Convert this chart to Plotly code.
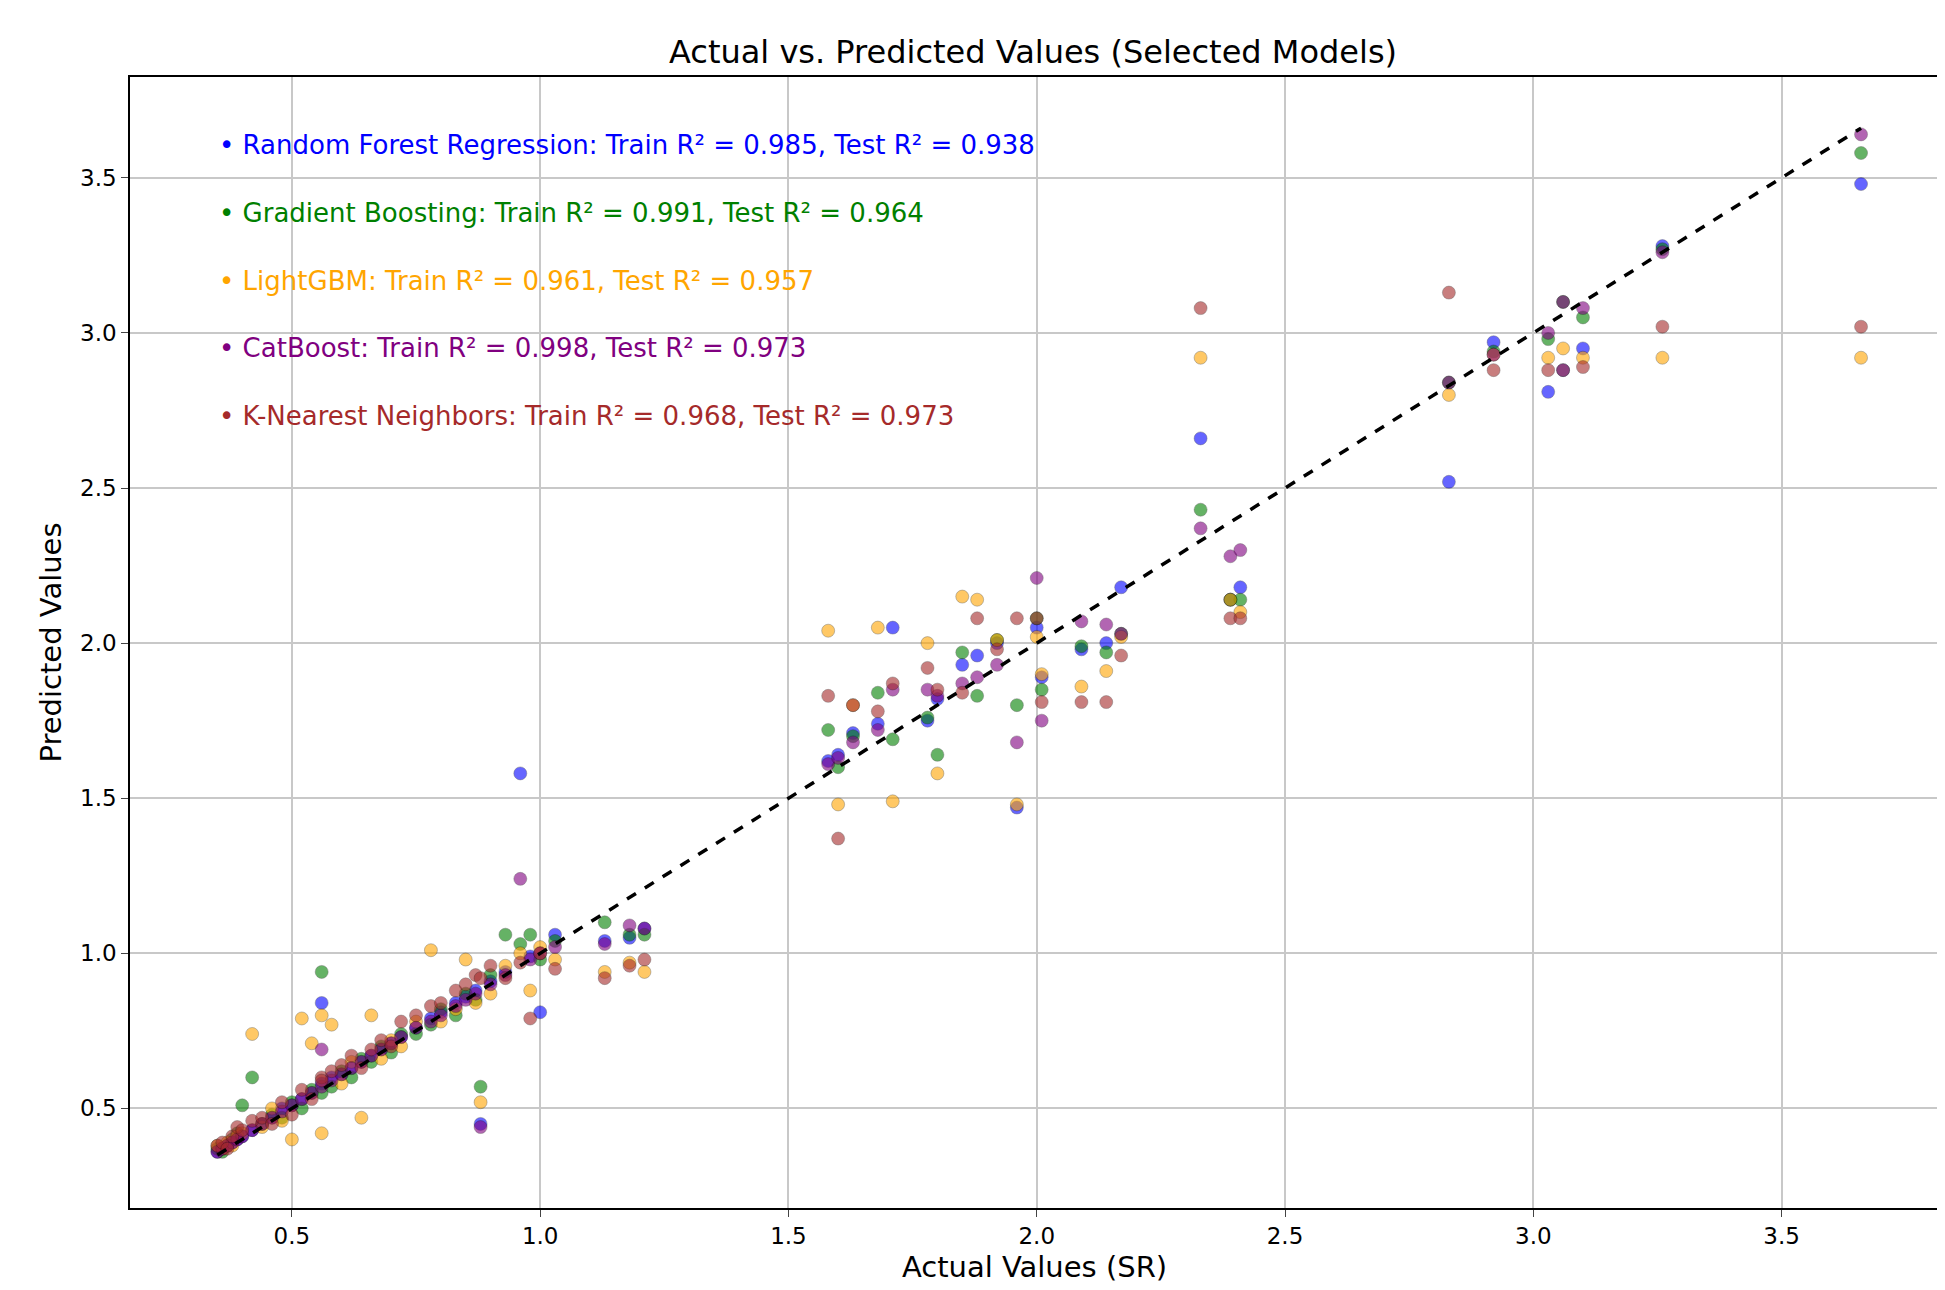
import plotly.graph_objects as go

# actual test values (SR)
actual = [0.35, 0.36, 0.37, 0.38, 0.39, 0.40, 0.42, 0.44, 0.46, 0.48,
          0.50, 0.52, 0.54, 0.56, 0.56, 0.58, 0.60, 0.62, 0.64, 0.66,
          0.68, 0.70, 0.72, 0.75, 0.78, 0.80, 0.83, 0.85, 0.87, 0.88,
          0.90, 0.93, 0.96, 0.98, 1.00, 1.03, 1.13, 1.18, 1.21, 1.58,
          1.60, 1.63, 1.68, 1.71, 1.78, 1.80, 1.85, 1.88, 1.92, 1.96,
          2.00, 2.01, 2.09, 2.14, 2.17, 2.33, 2.39, 2.41, 2.83, 2.92,
          3.03, 3.06, 3.10, 3.26, 3.66]

pred_rf = [0.36, 0.37, 0.38, 0.39, 0.40, 0.41, 0.43, 0.45, 0.47, 0.50,
           0.51, 0.53, 0.55, 0.84, 0.58, 0.60, 0.61, 0.63, 0.65, 0.67,
           0.69, 0.71, 0.73, 0.76, 0.79, 0.81, 0.84, 0.86, 0.88, 0.45,
           0.91, 0.94, 1.58, 0.99, 0.81, 1.06, 1.04, 1.05, 1.08, 1.62,
           1.64, 1.71, 1.74, 2.05, 1.75, 1.82, 1.93, 1.96, 2.00, 1.47,
           2.05, 1.89, 1.98, 2.00, 2.18, 2.66, 2.14, 2.18, 2.52, 2.97,
           2.81, 2.88, 2.95, 3.28, 3.48]
pred_gb = [0.37, 0.36, 0.38, 0.40, 0.42, 0.51, 0.60, 0.45, 0.48, 0.47,
           0.52, 0.50, 0.56, 0.94, 0.55, 0.57, 0.62, 0.60, 0.66, 0.65,
           0.70, 0.68, 0.74, 0.74, 0.77, 0.82, 0.80, 0.87, 0.85, 0.57,
           0.93, 1.06, 1.03, 1.06, 0.98, 1.04, 1.10, 1.06, 1.06, 1.72,
           1.60, 1.70, 1.84, 1.69, 1.76, 1.64, 1.97, 1.83, 2.01, 1.80,
           2.08, 1.85, 1.99, 1.97, 2.03, 2.43, 2.14, 2.14, 2.84, 2.94,
           2.98, 3.10, 3.05, 3.27, 3.58]
pred_lgbm = [0.38, 0.37, 0.39, 0.38, 0.41, 0.42, 0.74, 0.44, 0.50, 0.46,
             0.40, 0.79, 0.71, 0.80, 0.42, 0.77, 0.58, 0.65, 0.47, 0.80,
             0.66, 0.72, 0.70, 0.78, 1.01, 0.78, 0.82, 0.98, 0.84, 0.52,
             0.87, 0.96, 1.00, 0.88, 1.02, 0.98, 0.94, 0.97, 0.94, 2.04,
             1.48, 1.80, 2.05, 1.49, 2.00, 1.58, 2.15, 2.14, 2.01, 1.48,
             2.02, 1.90, 1.86, 1.91, 2.02, 2.92, 2.14, 2.10, 2.80, 2.93,
             2.92, 2.95, 2.92, 2.92, 2.92]
pred_cat = [0.36, 0.37, 0.38, 0.39, 0.40, 0.41, 0.43, 0.45, 0.47, 0.49,
            0.51, 0.53, 0.55, 0.69, 0.57, 0.59, 0.61, 0.63, 0.65, 0.67,
            0.69, 0.71, 0.73, 0.76, 0.78, 0.80, 0.83, 0.85, 0.87, 0.44,
            0.90, 0.93, 1.24, 0.98, 1.00, 1.02, 1.03, 1.09, 1.08, 1.61,
            1.63, 1.68, 1.72, 1.85, 1.85, 1.83, 1.87, 1.89, 1.93, 1.68,
            2.21, 1.75, 2.07, 2.06, 2.03, 2.37, 2.28, 2.30, 2.84, 2.93,
            3.00, 3.10, 3.08, 3.26, 3.64]
pred_knn = [0.38, 0.39, 0.37, 0.41, 0.44, 0.43, 0.46, 0.47, 0.45, 0.52,
            0.48, 0.56, 0.53, 0.60, 0.59, 0.62, 0.64, 0.67, 0.63, 0.69,
            0.72, 0.70, 0.78, 0.80, 0.83, 0.84, 0.88, 0.90, 0.93, 0.92,
            0.96, 0.92, 0.97, 0.79, 1.00, 0.95, 0.92, 0.96, 0.98, 1.83,
            1.37, 1.80, 1.78, 1.87, 1.92, 1.85, 1.84, 2.08, 1.98, 2.08,
            2.08, 1.81, 1.81, 1.81, 1.96, 3.08, 2.08, 2.08, 3.13, 2.88,
            2.88, 2.88, 2.89, 3.02, 3.02]

models = ["Random Forest Regression", "Gradient Boosting", "LightGBM", "CatBoost", "K-Nearest Neighbors"]
colors = ["blue", "green", "orange", "purple", "brown"]
train_r2 = [0.985, 0.991, 0.961, 0.998, 0.968]
test_r2 = [0.938, 0.964, 0.957, 0.973, 0.973]
preds = [pred_rf, pred_gb, pred_lgbm, pred_cat, pred_knn]

fig = go.Figure()
for name, col, p in zip(models, colors, preds):
    fig.add_trace(go.Scatter(x=actual, y=p, mode="markers", name=name,
                             marker=dict(color=col, size=13, opacity=0.6,
                                         line=dict(width=1, color="rgba(0,0,0,0.4)")),
                             showlegend=False))

lo, hi = min(actual), max(actual)
fig.add_trace(go.Scatter(x=[lo, hi], y=[lo, hi], mode="lines",
                         line=dict(color="black", dash="dash", width=3.5),
                         showlegend=False))

for i, (name, col) in enumerate(zip(models, colors)):
    fig.add_annotation(xref="paper", yref="paper", x=0.048, y=0.94 - i * 0.06,
                       xanchor="left", yanchor="middle", showarrow=False,
                       text="• {}: Train R² = {:.3f}, Test R² = {:.3f}".format(name, train_r2[i], test_r2[i]),
                       font=dict(color=col, size=26))

axis_common = dict(showgrid=True, gridcolor="#c8c8c8", gridwidth=1.5, zeroline=False,
                   showline=True, linecolor="black", linewidth=1.5, mirror=True,
                   ticks="outside", ticklen=7, tickfont=dict(size=23, color="black"))
fig.update_xaxes(range=[0.174, 3.817], tickvals=[0.5, 1.0, 1.5, 2.0, 2.5, 3.0, 3.5],
                 ticktext=["0.5", "1.0", "1.5", "2.0", "2.5", "3.0", "3.5"],
                 title=dict(text="Actual Values (SR)", font=dict(size=29, color="black"), standoff=8),
                 **axis_common)
fig.update_yaxes(range=[0.179, 3.825], tickvals=[0.5, 1.0, 1.5, 2.0, 2.5, 3.0, 3.5],
                 ticktext=["0.5", "1.0", "1.5", "2.0", "2.5", "3.0", "3.5"],
                 title=dict(text="Predicted Values", font=dict(size=29, color="black"), standoff=10),
                 **axis_common)
fig.update_layout(
    title=dict(text="Actual vs. Predicted Values (Selected Models)", x=0.527, xanchor="center",
               y=0.975, font=dict(size=32, color="black")),
    font=dict(family="DejaVu Sans"),
    plot_bgcolor="white", paper_bgcolor="white",
    width=1945, height=1290,
    margin=dict(l=122, r=12, t=69, b=90),
)
fig.write_html("out.html")
